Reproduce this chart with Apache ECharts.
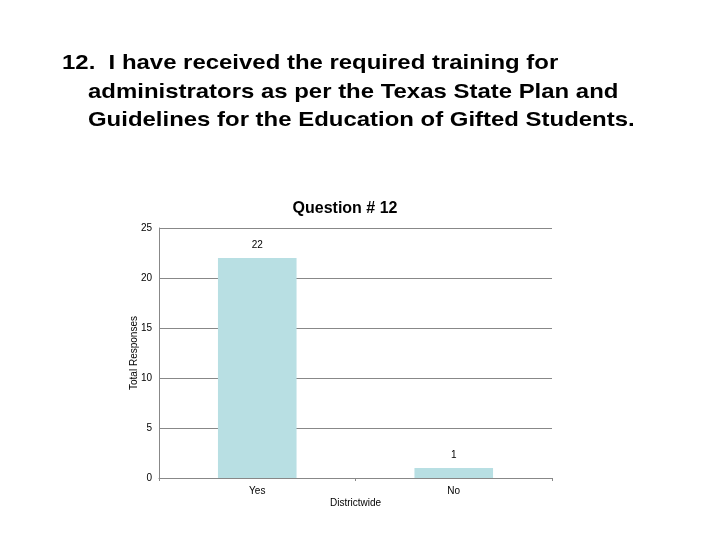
<!DOCTYPE html>
<html>
<head>
<meta charset="utf-8">
<script src="https://cdn.jsdelivr.net/npm/echarts@6/dist/echarts.min.js"></script>
<style>
  html, body { margin: 0; padding: 0; background: #fff; }
  #chart { width: 720px; height: 540px; }
</style>
</head>
<body>
<div id="chart"></div>
<script>
// data
var categories = ['Yes', 'No'];
var responses = [22, 1];
var yTicks = [0, 5, 10, 15, 20, 25];

var headingLines = [
    '12.  I have received the required training for',
    'administrators as per the Texas State Plan and',
    'Guidelines for the Education of Gifted Students.'
];

var chart = echarts.init(document.getElementById('chart'));

var headingFont = 'bold 21px "Liberation Sans", Arial, sans-serif';
var graphics = [];
for (var i = 0; i < headingLines.length; i++) {
    graphics.push({
        type: 'text',
        x: i === 0 ? 62 : 88,
        y: 53 + i * 28.5,
        scaleX: 1.14,
        style: {
            text: headingLines[i],
            font: headingFont,
            fill: '#000'
        }
    });
}

var option = {
    animation: false,
    backgroundColor: '#fff',
    title: {
        text: 'Question # 12',
        left: 340,
        textAlign: 'center',
        top: 196,
        textStyle: {
            fontFamily: '"Liberation Sans", Arial, sans-serif',
            fontSize: 16,
            fontWeight: 'bold',
            color: '#000'
        }
    },
    graphic: graphics,
    grid: {
        left: 159,
        right: 168,
        top: 228,
        bottom: 62
    },
    xAxis: {
        type: 'category',
        data: categories,
        name: 'Districtwide',
        nameLocation: 'middle',
        nameGap: 20,
        nameTextStyle: { fontFamily: '"Liberation Sans", Arial', fontSize: 10, color: '#000' },
        axisLine: { lineStyle: { color: '#888' } },
        axisTick: { show: true, length: 3, lineStyle: { color: '#888' } },
        axisLabel: { fontFamily: '"Liberation Sans", Arial', fontSize: 10, color: '#000', margin: 8 }
    },
    yAxis: {
        type: 'value',
        min: 0,
        max: 25,
        interval: 5,
        name: 'Total Responses',
        nameLocation: 'middle',
        nameGap: 20,
        nameMoveOverlap: false,
        nameTextStyle: { fontFamily: '"Liberation Sans", Arial', fontSize: 10, color: '#000' },
        axisLine: { show: true, lineStyle: { color: '#888' } },
        axisTick: { show: false },
        axisLabel: {
            fontFamily: '"Liberation Sans", Arial',
            fontSize: 10,
            color: '#000',
            margin: 7,
            formatter: function (v) { return yTicks.indexOf(v) >= 0 ? String(v) : ''; }
        },
        splitLine: { lineStyle: { color: '#888', width: 1 } }
    },
    series: [{
        type: 'bar',
        data: responses,
        barWidth: '40%',
        itemStyle: { color: '#b8dfe3' },
        label: {
            show: true,
            position: 'top',
            distance: 8,
            fontFamily: '"Liberation Sans", Arial',
            fontSize: 10,
            color: '#000'
        }
    }]
};

chart.setOption(option);
</script>
</body>
</html>
